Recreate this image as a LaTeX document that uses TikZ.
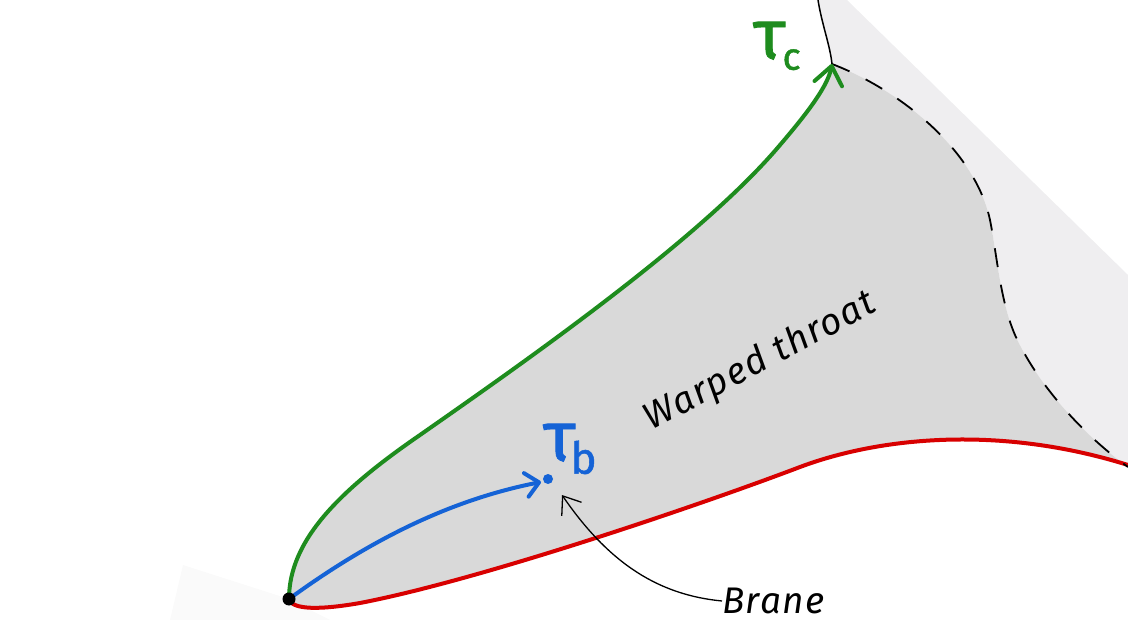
\documentclass[tikz,border=0pt]{standalone}
\usepackage{fontspec}
\setmainfont{Fira Sans}
\usetikzlibrary{arrows.meta}
\definecolor{throat}{HTML}{D9D9D9}
\definecolor{bulk}{HTML}{EFEEF0}
\definecolor{faint}{HTML}{FAFAFA}
\definecolor{tgreen}{HTML}{1E8C1E}
\definecolor{tred}{HTML}{D80000}
\definecolor{tblue}{HTML}{1563D6}
\tikzset{
  curve/.style={line width=4pt, line cap=round},
  labeltext/.style={font=\itshape\fontsize{37}{39}\selectfont\addfontfeatures{LetterSpace=4}, inner sep=0pt},
  taulabel/.style={inner sep=0pt, font=\addfontfeatures{FakeBold=1.2}},
}
\begin{document}
\begin{tikzpicture}[x=1pt,y=-1pt]
\useasboundingbox (0,0) rectangle (1128,620);
\coordinate (O) at (289,599);
\coordinate (C) at (832,64);
\coordinate (B) at (548,479);
\coordinate (T) at (818,0);
\coordinate (Bt) at (541,482);
\coordinate (Bp) at (562,495);
% faint wedge bottom-left
\fill[faint] (170,620) -- (183,565) -- (O) -- (330,620) -- cycle;
% light bulk region
\fill[bulk] (T) .. controls (822,25) and (830,45) .. (C)
  .. controls (900,90) and (975,150) .. (990,220)
  .. controls (997,255) and (1000,300) .. (1015,335)
  .. controls (1040,390) and (1090,440) .. (1128,467)
  -- (1128,275) -- (847,0) -- cycle;
% throat
\fill[throat] (O) .. controls (289,540) and (340,490) .. (420,435)
  .. controls (520,365) and (700,240) .. (780,145)
  .. controls (810,110) and (828,85) .. (C)
  .. controls (900,90) and (975,150) .. (990,220)
  .. controls (997,255) and (1000,300) .. (1015,335)
  .. controls (1040,390) and (1090,440) .. (1128,467)
  -- (1128,465)
  .. controls (1000,425) and (880,437) .. (800,467)
  .. controls (700,505) and (480,580) .. (360,603)
  .. controls (320,610) and (292,610) .. (O) -- cycle;
% red brane boundary
\draw[curve, tred] (O) .. controls (292,610) and (320,610) .. (360,603)
  .. controls (480,580) and (700,505) .. (800,467)
  .. controls (880,437) and (1000,425) .. (1128,465);
% dashed boundary
\draw[line width=1.8pt, dash pattern=on 19pt off 18pt] (C)
  .. controls (900,90) and (975,150) .. (990,220)
  .. controls (997,255) and (1000,300) .. (1015,335)
  .. controls (1040,390) and (1090,440) .. (1128,467);
% black line at top
\draw[line width=1.5pt] (T) .. controls (822,25) and (830,45) .. (C);
% green tau_c path
\draw[curve, tgreen, -{Straight Barb[length=18pt,width=28pt,round]}]
  (O) .. controls (289,540) and (340,490) .. (420,435)
  .. controls (520,365) and (700,240) .. (780,145)
  .. controls (810,110) and (828,85) .. (C);
% blue tau_b path
\draw[curve, tblue, -{Straight Barb[length=13pt,width=24pt,round]}]
  (O) .. controls (370,540) and (450,500) .. (Bt);
\fill[tblue] (B) circle (5pt);
\fill[black] (O) circle (6.5pt);
% labels
\node[taulabel, text=tgreen] (tc) at (777,46)
  {\fontsize{70}{72}\selectfont τ\kern-3pt\raisebox{-11pt}{\fontsize{38}{40}\selectfont c}};
\node[taulabel, text=tblue] (tb) at (570,449)
  {\fontsize{70}{72}\selectfont τ\kern-5pt\raisebox{-13pt}{\fontsize{44}{46}\selectfont b}};
\node[labeltext, rotate=28] (wt) at (760,362) {Warped throat};
\node[labeltext, anchor=west] (brane) at (722,601) {Brane};
\draw[line width=1.3pt, -{Straight Barb[length=16pt,width=24pt]}]
  (brane.west) .. controls (660,595) and (610,565) .. (Bp);
\end{tikzpicture}
\end{document}
